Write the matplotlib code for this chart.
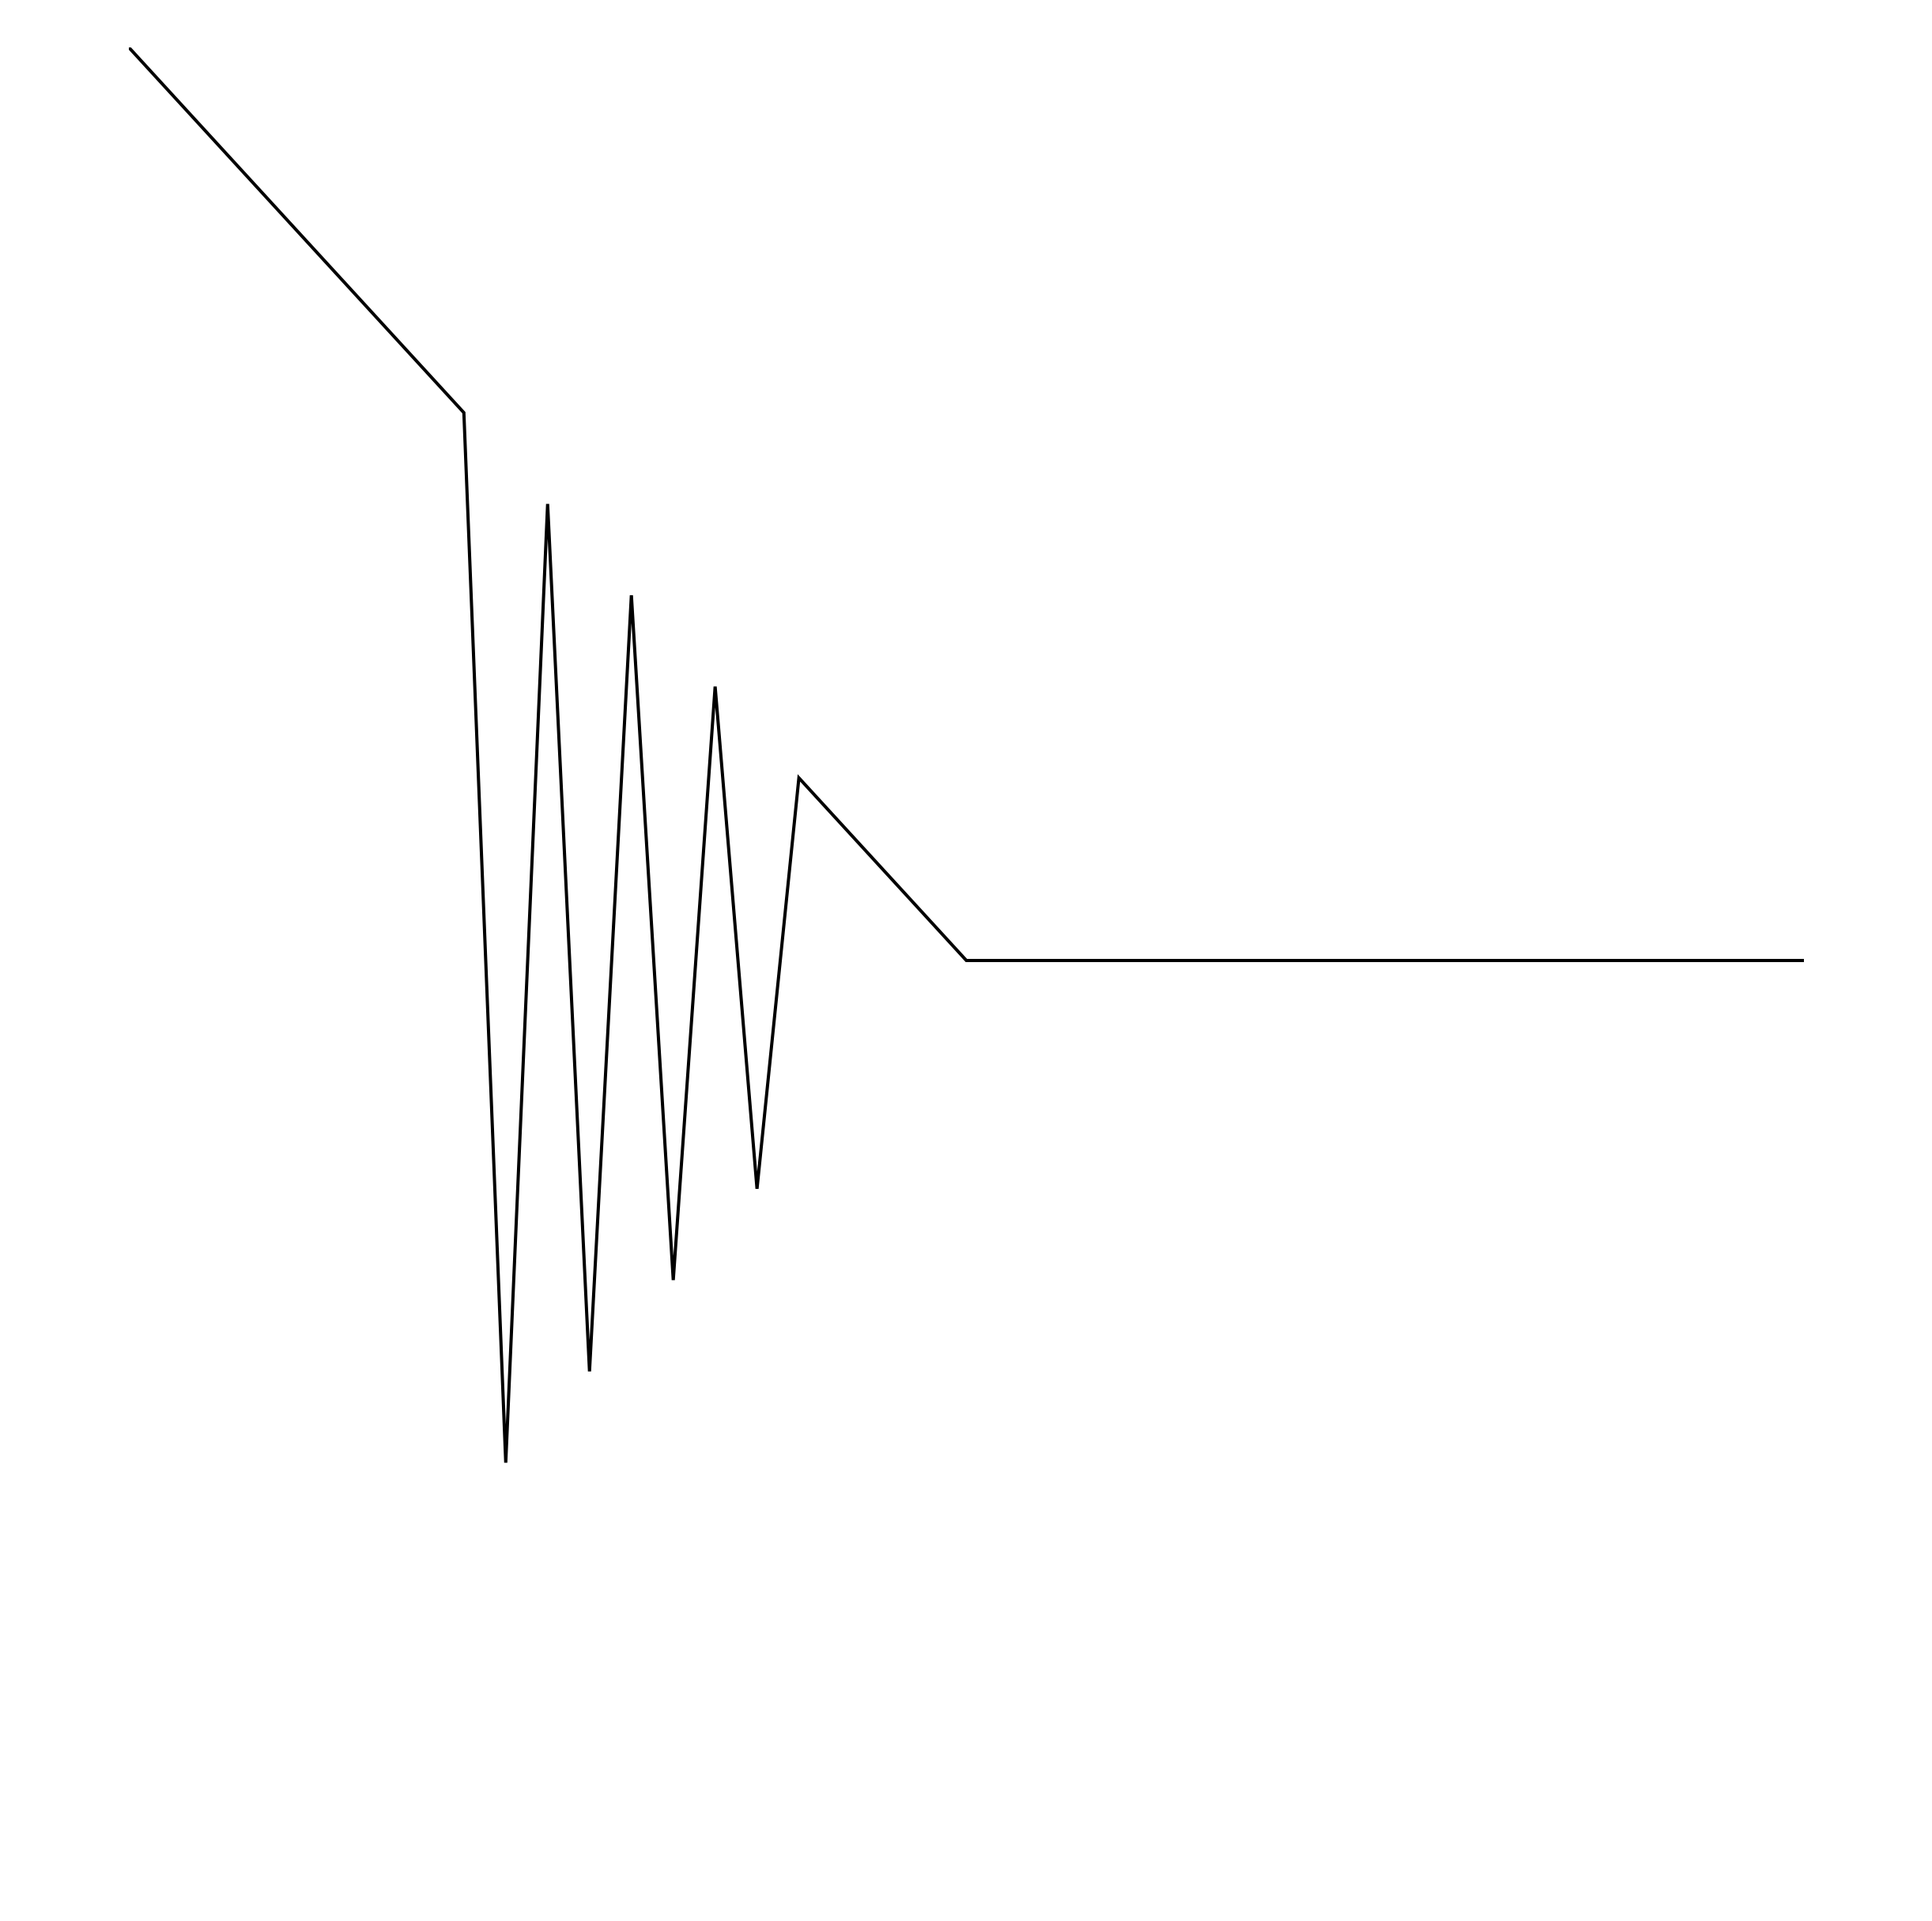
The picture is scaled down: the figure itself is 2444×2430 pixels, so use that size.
import matplotlib
matplotlib.use("Agg")
import matplotlib.pyplot as plt

x_values = [0, 8, 9, 10, 11, 12, 13, 14, 15, 16, 20, 40]
y_values = [20, 12, -11, 10, -9, 8, -7, 6, -5, 4, 0, 0]

W, H = 2444, 2430
fig = plt.figure(figsize=(W / 100, H / 100), dpi=100)
ax = fig.add_axes([163 / W, 60 / H, 2119 / W, 2310 / H])
ax.plot(x_values, y_values, color="black", linewidth=2.9,
        solid_joinstyle="miter", solid_capstyle="butt")
ax.set_xlim(0, 40)
ax.set_ylim(-20, 20)
ax.axis("off")
fig.savefig("out.png", dpi=100, facecolor="white")
